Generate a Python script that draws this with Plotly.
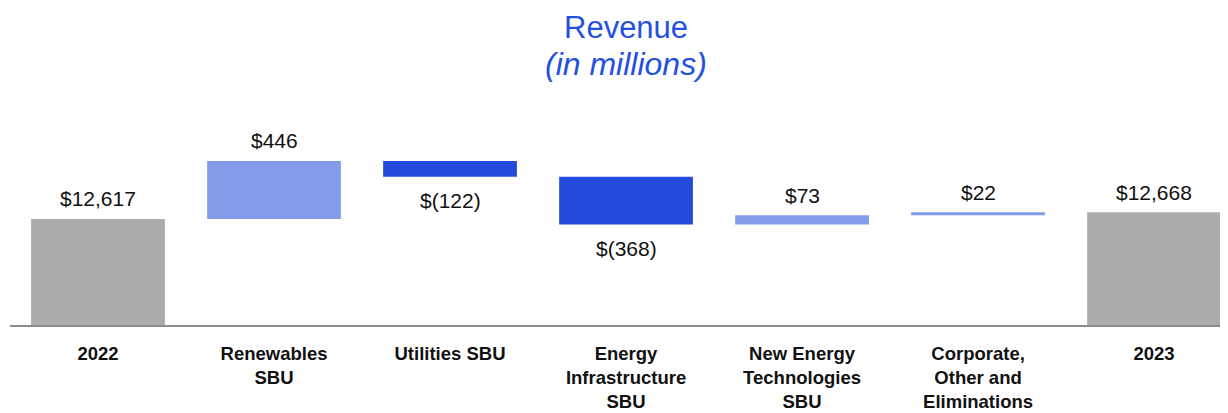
import plotly.graph_objects as go

# waterfall data (USD millions)
categories = ["2022", "Renewables<br>SBU", "Utilities SBU", "Energy<br>Infrastructure<br>SBU",
              "New Energy<br>Technologies<br>SBU", "Corporate,<br>Other and<br>Eliminations", "2023"]
values = [12617, 446, -122, -368, 73, 22, 12668]
measures = ["absolute", "relative", "relative", "relative", "relative", "relative", "total"]
labels = ["$12,617", "$446", "$(122)", "$(368)", "$73", "$22", "$12,668"]

GRAY = "#ABABAB"
LIGHT = "#829CEA"
DARK = "#224BDC"

xs = list(range(len(categories)))

fig = go.Figure(go.Waterfall(
    x=xs, y=values, measure=measures,
    increasing=dict(marker=dict(color=LIGHT)),
    decreasing=dict(marker=dict(color=DARK)),
    totals=dict(marker=dict(color=GRAY)),
    connector=dict(visible=False),
    width=0.76,
    hoverinfo="skip",
))

# value labels above/below bar ends
running = 0
for i, (v, m, t) in enumerate(zip(values, measures, labels)):
    if m == "absolute":
        running = v
        end, up = v, True
    elif m == "total":
        end, up = running, True
    else:
        running += v
        end = running
        up = v > 0
    fig.add_annotation(x=i, y=end, text=t, showarrow=False, yanchor="middle",
                       yshift=20 if up else -24,
                       font=dict(family="Liberation Sans, Arial", size=21, color="#111111"))

# page body has an 8px margin, so the figure is shrunk/shifted to compensate
title_x = (626 - 10) / 1218
fig.add_annotation(xref="paper", yref="paper", x=title_x, y=1.0, yshift=73,
                   text="Revenue", showarrow=False, yanchor="middle",
                   font=dict(family="Liberation Sans, Arial", size=31, color="#2450E0"))
fig.add_annotation(xref="paper", yref="paper", x=title_x, y=1.0, yshift=36,
                   text="<i>(in millions)</i>", showarrow=False, yanchor="middle",
                   font=dict(family="Liberation Sans, Arial", size=32, color="#2450E0"))

px_per = 7.7
ymin = 11800
fig.update_layout(
    width=1220, height=405,
    margin=dict(l=2, r=0, t=92, b=88),
    paper_bgcolor="white", plot_bgcolor="white",
    showlegend=False,
    xaxis=dict(tickmode="array", tickvals=xs,
               ticktext=["<b>" + c + "</b>" for c in categories],
               range=[-0.5, 6.42], showgrid=False, zeroline=False, automargin=False,
               showline=True, linecolor="#8c8c8c", linewidth=2,
               ticks="outside", ticklen=11, tickcolor="rgba(0,0,0,0)",
               tickfont=dict(family="Liberation Sans, Arial", size=18.5, color="#111111")),
    yaxis=dict(range=[ymin, ymin + 225 * px_per], visible=False, showgrid=False),
)

fig.write_html("out.html")
